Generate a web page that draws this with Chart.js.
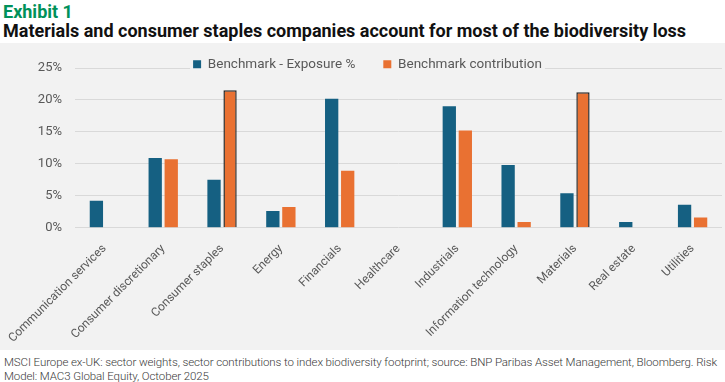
<!DOCTYPE html>
<html>
<head>
<meta charset="utf-8">
<script src="https://cdn.jsdelivr.net/npm/chart.js@4.4.1/dist/chart.umd.min.js"></script>
<style>
  html, body { margin: 0; padding: 0; background: #fff; }
  body { width: 725px; height: 382px; position: relative; overflow: hidden; font-family: Roboto, "Noto Sans", sans-serif; }
  #exhibit { position: absolute; left: 3px; top: 1px; font-size: 18px; font-weight: 700; color: #00915a; line-height: 22px; }
  #title { position: absolute; left: 3px; top: 20px; font-size: 18px; font-weight: 700; color: #111; line-height: 22px; white-space: nowrap; }
  #panel { position: absolute; left: 0; top: 43px; width: 725px; height: 307px; background: #f2f2f2; }
  #note { position: absolute; left: 4px; top: 355px; font-size: 11.5px; color: #3a3a3a; line-height: 14px; letter-spacing: -0.1px; font-weight: 300; white-space: nowrap; }
</style>
</head>
<body>
<div id="exhibit">Exhibit 1</div>
<div id="title">Materials and consumer staples companies account for most of the biodiversity loss</div>
<div id="panel"><canvas id="biodivChart" width="725" height="307"></canvas></div>
<div id="note">MSCI Europe ex-UK: sector weights, sector contributions to index biodiversity footprint; source: BNP Paribas Asset Management, Bloomberg. Risk<br>Model: MAC3 Global Equity, October 2025</div>
<script>
const sectors = ['Communication services', 'Consumer discretionary', 'Consumer staples', 'Energy', 'Financials',
  'Healthcare', 'Industrials', 'Information technology', 'Materials', 'Real estate', 'Utilities'];
const exposure = [4.2, 10.9, 7.5, 2.6, 20.2, null, 19.0, 9.8, 5.4, 0.9, 3.6];
const contribution = [null, 10.7, 21.5, 3.25, 8.9, null, 15.2, 0.9, 21.2, null, 1.6];
const highlighted = ['Consumer staples', 'Materials'];
const yTicks = [0, 5, 10, 15, 20, 25];

const BLUE = '#156082';
const ORANGE = '#e97132';
const GREY_TXT = '#595959';

// moves the legend down so it sits on the top gridline like the original
const legendPlace = {
  id: 'legendPlace',
  afterInit(chart) {
    const lg = chart.legend;
    const fit = lg.fit.bind(lg);
    lg.fit = function () { fit(); this.height = 25; };
    const draw = lg.draw.bind(lg);
    lg.draw = function () {
      const boxes = this.legendHitBoxes || [];
      if (boxes.length) {
        const ctx = chart.ctx;
        const first = boxes[0], last = boxes[boxes.length - 1];
        ctx.save();
        ctx.fillStyle = '#f2f2f2';
        ctx.fillRect(first.left - 3, first.top - 2, last.left + last.width - first.left + 6, first.height + 4);
        ctx.restore();
      }
      draw();
    };
  },
  afterLayout(chart) {
    const lg = chart.legend;
    const dy = -13.5 - lg.top;
    lg.top += dy;
    lg.bottom = lg.top + 55;
    lg.left += 6.5; lg.right += 6.5;
  }
};

const ctx = document.getElementById('biodivChart').getContext('2d');
const chart = new Chart(ctx, {
  type: 'bar',
  data: {
    labels: sectors,
    datasets: [
      {
        label: 'Benchmark - Exposure %',
        data: exposure,
        backgroundColor: BLUE,
        borderWidth: 0
      },
      {
        label: 'Benchmark contribution',
        data: contribution,
        backgroundColor: ORANGE,
        borderColor: sectors.map(s => highlighted.includes(s) ? '#2a2a2a' : ORANGE),
        borderWidth: sectors.map(s => highlighted.includes(s) ? 1.5 : 0)
      }
    ]
  },
  options: {
    responsive: false,
    animation: false,
    categoryPercentage: 0.545,
    barPercentage: 0.83,
    layout: { padding: { top: 0, right: 3, bottom: 0, left: 0 } },
    plugins: {
      legend: {
        position: 'top',
        labels: {
          color: GREY_TXT,
          font: { family: 'Roboto', size: 13.5 },
          boxWidth: 8,
          boxHeight: 8,
          padding: 28
        }
      },
      tooltip: { enabled: false }
    },
    scales: {
      x: {
        grid: { display: false },
        border: { display: false },
        ticks: {
          color: GREY_TXT,
          font: { family: 'Roboto', size: 12 },
          minRotation: 45,
          maxRotation: 45,
          padding: 6
        },
        afterFit(scale) { scale.height = 122.3; }
      },
      y: {
        min: 0,
        max: 25,
        grid: { color: '#d9d9d9', lineWidth: 1, drawTicks: false },
        border: { display: false },
        afterBuildTicks(scale) { scale.ticks = yTicks.map(v => ({ value: v })); },
        ticks: {
          color: GREY_TXT,
          font: { family: 'Roboto', size: 13 },
          padding: 13,
          callback: v => v + '%'
        },
        afterFit(scale) { scale.width = 75; }
      }
    }
  },
  plugins: [legendPlace]
});
</script>
</body>
</html>
